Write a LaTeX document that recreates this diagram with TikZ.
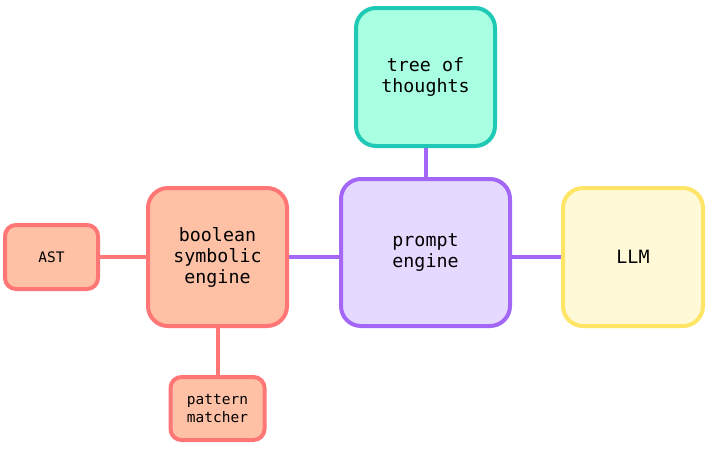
\documentclass[tikz,border=0pt]{standalone}
\usepackage{fontspec}
\setmonofont{DejaVu Sans Mono}
\usetikzlibrary{backgrounds}
\definecolor{tealfill}{HTML}{A8FFE1}
\definecolor{tealline}{HTML}{1FC9B5}
\definecolor{lavfill}{HTML}{E6D9FF}
\definecolor{lavline}{HTML}{A366F7}
\definecolor{yelfill}{HTML}{FFF9D7}
\definecolor{yelline}{HTML}{FFE566}
\definecolor{salfill}{HTML}{FFC1A6}
\definecolor{salline}{HTML}{FF7676}
\tikzset{
  x=1pt,y=-1pt,
  box/.style={draw, line width=4pt, rounded corners=20pt, align=center, inner sep=0pt,
    font=\ttfamily\fontsize{18.3}{21}\selectfont},
  smallbox/.style={draw, line width=4pt, rounded corners=11pt, align=center, inner sep=0pt,
    font=\ttfamily\fontsize{14.5}{18}\selectfont},
  tealbox/.style={box, fill=tealfill, draw=tealline},
  lavbox/.style={box, fill=lavfill, draw=lavline},
  yelbox/.style={box, fill=yelfill, draw=yelline},
  salbox/.style={box, fill=salfill, draw=salline},
  salsmall/.style={smallbox, fill=salfill, draw=salline},
  link/.style={line width=4pt},
}
\begin{document}
\begin{tikzpicture}
\useasboundingbox (0,0) rectangle (709,448);
\node[tealbox, minimum width=139pt, minimum height=138pt] (tree) at (425.5,77) {tree of\\thoughts};
\node[lavbox, minimum width=169pt, minimum height=147pt] (prompt) at (425.5,252.5) {prompt\\engine};
\node[yelbox, minimum width=140pt, minimum height=138pt] (llm) at (633,257) {LLM};
\node[salbox, minimum width=139pt, minimum height=138pt] (bool) at (217.5,257) {boolean\\symbolic\\engine};
\node[salsmall, minimum width=93pt, minimum height=64pt] (ast) at (51.5,257) {AST};
\node[salsmall, minimum width=94pt, minimum height=63pt] (pat) at (217.5,408.5) {pattern\\matcher};
\begin{scope}[on background layer]
\fill[white] (0,0) rectangle (709,448);
\draw[link, lavline] (prompt.north) -- (tree.south);
\draw[link, lavline] (llm.west -| prompt.east) -- (llm.west);
\draw[link, lavline] (bool.east) -- (bool.east -| prompt.west);
\draw[link, salline] (ast.east) -- (bool.west);
\draw[link, salline] (bool.south) -- (pat.north);
\end{scope}
\end{tikzpicture}
\end{document}
